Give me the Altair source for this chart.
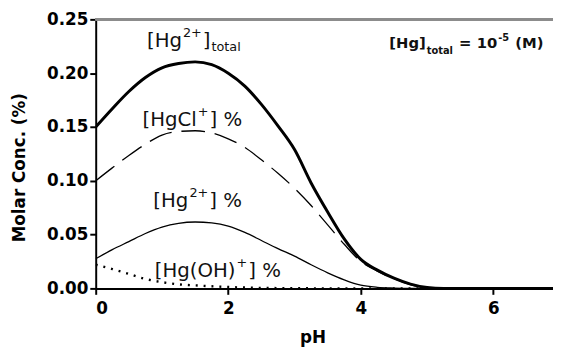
import altair as alt
import pandas as pd

# ---- data ----
ph = [0, 0.25, 0.5, 0.75, 1.0, 1.25, 1.5, 1.75, 2.0, 2.25, 2.5, 2.75, 3.0, 3.25,
      3.5, 3.75, 4.0, 4.25, 4.5, 4.75, 5.0, 5.25, 5.5, 6.0, 6.5, 7.0]
hg_total = [0.150, 0.167, 0.183, 0.196, 0.205, 0.209, 0.2105, 0.208, 0.200, 0.188,
            0.171, 0.151, 0.129, 0.098, 0.071, 0.046, 0.027, 0.017, 0.0095, 0.004,
            0.0008, 0, 0, 0, 0, 0]
hgcl = [0.100, 0.112, 0.1235, 0.134, 0.1425, 0.1458, 0.1465, 0.1445, 0.139, 0.131,
        0.1195, 0.107, 0.093, 0.077, 0.059, 0.041, 0.025, 0.016, 0.009, 0.0035,
        0.0005, 0, 0, 0, 0, 0]
hg2 = [0.0275, 0.036, 0.0435, 0.051, 0.057, 0.0605, 0.0617, 0.0608, 0.0578, 0.052,
       0.0445, 0.037, 0.030, 0.022, 0.0145, 0.008, 0.003, 0.001, 0.0003, 0,
       0, 0, 0, 0, 0, 0]
hgoh = [0.022, 0.018, 0.0135, 0.0088, 0.0058, 0.0038, 0.0028, 0.002, 0.0013, 0.0008,
        0.0005, 0.0003, 0.0002, 0.0001, 0, 0, 0, 0, 0, 0, 0, 0, 0, 0, 0, 0]

x_ticks = [0, 2, 4, 6]
y_ticks = [0.0, 0.05, 0.10, 0.15, 0.20, 0.25]

# ---- layout ----
X_MAX = 6.9
Y_MAX = 0.25
W, H = 464, 273
PX_X = W / X_MAX
PX_Y = H / Y_MAX
FONT = "DejaVu Sans"
INK = "#111111"

# label pieces: (text, size, baseline shift px)
REG = {'[': .390, ']': .390, 'H': .752, 'g': .635, 'C': .698, 'l': .278, 'O': .787,
       '(': .390, ')': .390, ' ': .318, '%': .950, '+': .838, '2': .636, 't': .392,
       'o': .612, 'a': .613}
BOLD = {'[': .457, ']': .457, 'H': .837, 'g': .716, ' ': .348, '=': .838, '1': .696,
        '0': .696, '-': .415, '5': .696, '(': .457, ')': .457, 'M': .995, 't': .478,
        'o': .687, 'a': .675, 'l': .343}

labels = [
    # anchor pH, anchor conc, bold, pieces
    (0.773, 0.2244, False, [("[Hg", 20, 0), ("2+", 13, -10), ("]", 20, 0), ("total", 13, 4)]),
    (0.706, 0.1511, False, [("[HgCl", 20, 0), ("+", 13, -10), ("] %", 20, 0)]),
    (0.870, 0.0760, False, [("[Hg", 20, 0), ("2+", 13, -10), ("] %", 20, 0)]),
    (0.892, 0.0110, False, [("[Hg(OH)", 20, 0), ("+", 13, -10), ("] %", 20, 0)]),
    (4.430, 0.2234, True, [("[Hg]", 15, 0), ("total", 10, 6), (" = 10", 15, 0),
                           ("-5", 10, -7), (" (M)", 15, 0)]),
]

rows = []
for ax, ay, bold, pieces in labels:
    metr = BOLD if bold else REG
    off = 0.0
    for txt, size, shift in pieces:
        lead = len(txt) - len(txt.lstrip(' '))
        off += lead * metr[' '] * size
        body = txt.lstrip(' ')
        rows.append({"x": ax + off / PX_X, "y": ay - shift / PX_Y, "t": body,
                     "s": size, "bold": bold})
        off += sum(metr.get(c, 0.6) for c in body) * size + 1
lab = pd.DataFrame(rows)

df = pd.DataFrame({"pH": ph, "total": hg_total, "hgcl": hgcl, "hg2": hg2, "hgoh": hgoh})

xs = alt.Scale(domain=[0, X_MAX], nice=False)
ys = alt.Scale(domain=[0, Y_MAX], nice=False)

xax = alt.Axis(values=x_ticks, format="d", title="pH", titleX=220, titleY=55,
               titleBaseline="alphabetic", titleAlign="center", labelPadding=6)
yax = alt.Axis(values=y_ticks, format=".2f", title="Molar Conc. (%)", titleX=-77,
               titleY=150, titleBaseline="middle", titleAlign="center", titleAngle=-90,
               labelPadding=2)

base = alt.Chart(df)


def line(col, **kw):
    return base.mark_line(interpolate="monotone", color="black", clip=True, **kw).encode(
        x=alt.X("pH:Q", scale=xs, axis=xax),
        y=alt.Y(f"{col}:Q", scale=ys, axis=yax),
    )


frame = alt.Chart(df).mark_rule(color="#8c8c8c", strokeWidth=2).encode(y=alt.datum(Y_MAX))

l_oh = line("hgoh", strokeWidth=2.4, strokeDash=[2, 6], strokeCap="butt")
l_hg = line("hg2", strokeWidth=1.3)
l_cl = line("hgcl", strokeWidth=1.3, strokeDash=[24, 10])
l_tot = line("total", strokeWidth=3)

txt_reg = alt.Chart(lab[~lab["bold"]]).mark_text(
    align="left", baseline="alphabetic", font=FONT, color=INK
).encode(x=alt.X("x:Q", scale=xs), y=alt.Y("y:Q", scale=ys),
         text="t:N", size=alt.Size("s:Q", scale=None))
txt_bold = alt.Chart(lab[lab["bold"]]).mark_text(
    align="left", baseline="alphabetic", font=FONT, fontWeight="bold", color=INK
).encode(x=alt.X("x:Q", scale=xs), y=alt.Y("y:Q", scale=ys),
         text="t:N", size=alt.Size("s:Q", scale=None))

chart = alt.layer(frame, l_oh, l_hg, l_cl, l_tot, txt_reg, txt_bold).properties(
    width=W, height=H,
    autosize=alt.AutoSizeParams(type="none"),
    padding={"left": 89, "top": 9, "right": 0, "bottom": 62},
).configure_view(stroke=None).configure_axis(
    grid=False, domainColor="black", domainWidth=2, tickColor="black", tickWidth=2,
    tickSize=6, labelFont=FONT, labelFontWeight="bold", labelFontSize=17,
    labelColor="black", titleFont=FONT, titleFontWeight="bold", titleFontSize=17,
    titleColor="black",
)

chart.save("out.html", embed_options={"renderer": "svg", "actions": False})
